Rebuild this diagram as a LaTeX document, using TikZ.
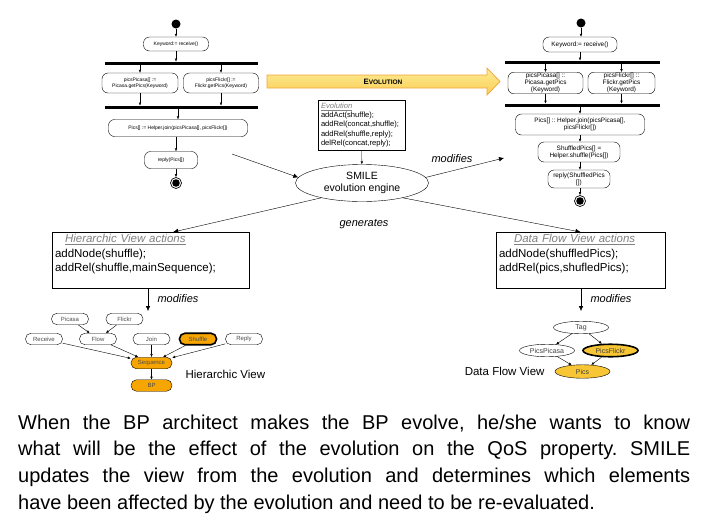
\documentclass[tikz,border=0pt]{standalone}
\usepackage{fontspec}
\setmainfont{Liberation Sans}
\usetikzlibrary{arrows.meta,shapes.geometric}
\definecolor{hvorange}{HTML}{F7A500}
\definecolor{dfyellow}{HTML}{F8C634}
\definecolor{evolight}{HTML}{FDEB95}
\definecolor{evofill}{HTML}{F9CF55}
\definecolor{evoedge}{HTML}{F2A33A}
\frenchspacing

\begin{document}
\begin{tikzpicture}[x=1pt,y=-1pt,
  act/.style={draw,rounded corners=6pt,align=center,inner sep=1pt,font=\fontsize{5}{5.8}\selectfont},
  bigact/.style={act,font=\fontsize{6.4}{6.8}\selectfont},
  bar/.style={fill=black,inner sep=0,minimum height=3.5pt},
  startnode/.style={circle,fill=black,inner sep=0,minimum size=9pt},
  endnode/.style={circle,draw,line width=0.7pt,inner sep=0,minimum size=11pt,
    path picture={\fill (path picture bounding box.center) circle (3.8pt);}},
  af/.style={-{Latex[length=3pt,width=2.6pt]}},
  ar/.style={-{Latex[length=5pt,width=4.5pt]}},
  actions/.style={draw,align=left,anchor=north,inner xsep=3pt,inner ysep=2pt,font=\fontsize{11.5}{14.5}\selectfont},
  lbl/.style={font=\fontsize{11}{12}\selectfont\itshape},
  hv/.style={draw,rounded corners=5.5pt,minimum width=37pt,minimum height=11.5pt,inner sep=0,
    font=\fontsize{6}{6}\selectfont,text=black!70},
  df/.style={ellipse,draw,minimum width=55pt,minimum height=12.5pt,inner sep=0,
    font=\fontsize{7}{7}\selectfont,text=black!75},
  sel/.style={line width=1.6pt}]
\useasboundingbox (0,0) rectangle (712,517);

\node[startnode] (start1) at (176,24) {};
\node[act,minimum width=65pt,minimum height=14pt] (kw1) at (176,44) {Keyword:= receive()};
\node[bar,minimum width=153pt] (fork1) at (181.5,63.5) {};
\node[act,minimum width=76pt,minimum height=20pt] (pp1) at (140,83) {picsPicasa[] :=\\Picasa.getPics(Keyword)};
\node[act,minimum width=75pt,minimum height=20pt] (pf1) at (221,83) {picsFlickr[] :=\\Flickr.getPics(Keyword)};
\node[bar,minimum width=153pt] (join1) at (181.5,107.5) {};
\node[act,minimum width=139pt,minimum height=17pt] (pics1) at (178,128) {Pics[] := Helper.join(picsPicasa[], picsFlickr[])};
\node[act,minimum width=53pt,minimum height=17pt] (rep1) at (171,160) {reply(Pics[])};
\node[endnode] (end1) at (176,183) {};
\draw[af] (start1) -- (kw1);
\draw[af] (kw1) -- (kw1 |- fork1.north);
\foreach \n in {pp1,pf1}{
  \draw[af] (\n |- fork1.south) -- (\n);
  \draw[af] (\n) -- (\n |- join1.north);
}
\draw[af] (pics1 |- join1.south) -- (pics1);
\draw[af] (pics1.south -| end1) -- (rep1.north -| end1);
\draw[af] (rep1.south -| end1) -- (end1);

\node[startnode] (start2) at (581,23) {};
\node[bigact,minimum width=74pt,minimum height=15pt] (kw2) at (580,44.5) {Keyword:= receive()};
\node[bar,minimum width=155pt] (fork2) at (582.5,62.5) {};
\node[bigact,minimum width=75pt,minimum height=20pt] (pp2) at (545.5,83) {picsPicasa[] ::\\Picasa.getPics\\(Keyword)};
\node[bigact,minimum width=67pt,minimum height=20pt] (pf2) at (621.5,83) {picsFlickr[] ::\\Flickr.getPics\\(Keyword)};
\node[bar,minimum width=155pt] (join2) at (582.5,105.5) {};
\node[bigact,minimum width=129pt,minimum height=21pt] (pics2) at (580,124.5) {Pics[] :: Helper.join(picsPicasa[],\\picsFlickr[])};
\node[bigact,minimum width=82pt,minimum height=20pt] (shuf2) at (579,152) {ShuffledPics[] =\\Helper.shuffle(Pics[])};
\node[bigact,minimum width=62pt,minimum height=18pt] (rep2) at (579,179) {reply(ShuffledPics\\{[]})};
\node[endnode] (end2) at (580,201) {};
\draw[af] (start2) -- (start2 |- kw2.north);
\draw[af] (kw2) -- (kw2 |- fork2.north);
\foreach \n in {pp2,pf2}{
  \draw[af] (\n |- fork2.south) -- (\n);
  \draw[af] (\n) -- (\n |- join2.north);
}
\draw[af] (pics2 |- join2.south) -- (pics2);
\draw[af] (pics2.south -| end2) -- (shuf2.north -| end2);
\draw[af] (shuf2.south -| end2) -- (rep2.north -| end2);
\draw[af] (rep2.south -| end2) -- (end2);

\draw[evoedge,line width=0.7pt,top color=evolight,bottom color=evofill]
  (267,75) -- (487,75) -- (487,68) -- (500,81.5) -- (487,95) -- (487,88) -- (267,88) -- cycle;
\node[font=\bfseries\fontsize{6.5}{7}\selectfont] (evolabel) at (383,81.5) {{\fontsize{7.8}{8}\selectfont E}VOLUTION};

\node[draw,align=left,text width=81pt,inner sep=3pt,font=\fontsize{7.6}{9.2}\selectfont] (evobox) at (361.5,125)
  {{\color{gray}\underline{\textit{Evolution}}}\\addAct(shuffle);\\addRel(concat,shuffle);\\addRel(shuffle,reply);\\delRel(concat,reply);};
\node[ellipse,draw,minimum width=133pt,minimum height=37pt,inner sep=0,align=center,font=\fontsize{10.5}{12.5}\selectfont] (smile) at (362,183)
  {SMILE\\evolution engine};
\draw[af] (evobox) -- (smile);
\coordinate (fromleft) at (232,154);
\coordinate (toright) at (504,158);
\draw[ar] (fromleft) -- (smile.175);
\draw[ar] (smile.5) -- (toright);
\node[lbl] (modlbl) at (452,159) {modifies};

\node[actions,text width=191pt] (hbox) at (150.5,232)
  {\hspace*{10pt}{\color{gray}\underline{\textit{Hierarchic View actions}}}\\addNode(shuffle);\\addRel(shuffle,mainSequence);\\\mbox{}};
\node[actions,text width=163pt] (dbox) at (580.5,232)
  {\hspace*{15pt}{\color{gray}\underline{\textit{Data Flow View actions}}}\\addNode(shuffledPics);\\addRel(pics,shufledPics);\\\mbox{}};
\draw[ar] (smile.200) -- (hbox.51);
\draw[ar] (smile.340) -- (dbox.north);
\node[lbl] (genlbl) at (364,224) {generates};

\coordinate (hvtop) at (148,311);
\coordinate (dftop) at (581,311);
\draw[ar] (hbox.south -| hvtop) -- (hvtop);
\draw[ar] (dbox.south -| dftop) -- (dftop);
\node[lbl,anchor=west] (hvmod) at (154,299) {modifies};
\node[lbl,anchor=west] (dfmod) at (587,299) {modifies};

\node[hv] (picasa) at (70,319) {Picasa};
\node[hv] (flickr) at (124.5,319) {Flickr};
\node[hv] (receive) at (44,339) {Receive};
\node[hv] (flow) at (98,339) {Flow};
\node[hv] (join) at (151.5,339) {Join};
\node[hv,fill=hvorange,sel] (shuffle) at (198,339) {Shuffle};
\node[hv] (reply) at (244,339) {Reply};
\node[hv,fill=hvorange,minimum width=41pt] (sequence) at (151.5,363) {Sequence};
\node[hv,fill=hvorange,minimum width=41pt] (bp) at (151.5,385.5) {BP};
\node[anchor=west,font=\fontsize{11.5}{12}\selectfont] (hvname) at (182,374) {Hierarchic View};
\foreach \n in {picasa,flickr} \draw[af] (\n) -- (flow);
\foreach \n in {receive,flow,join,shuffle,reply} \draw[af] (\n) -- (sequence);
\draw[af] (sequence) -- (bp);

\node[df] (tag) at (581,327.5) {Tag};
\node[df] (picspicasa) at (547,350.5) {PicsPicasa};
\node[df,fill=dfyellow,sel] (picsflickr) at (610.5,350.5) {PicsFlickr};
\node[df,fill=dfyellow,minimum height=13.5pt] (pics) at (582.5,371.5) {Pics};
\node[anchor=east,font=\fontsize{11.5}{12}\selectfont] (dfname) at (548,371.5) {Data Flow View};
\foreach \n in {picspicasa,picsflickr}{
  \draw[af] (tag) -- (\n);
  \draw[af] (\n) -- (pics);
}

\node[anchor=north west,text width=672pt,align=justify,inner sep=0,font=\fontsize{20}{26.7}\selectfont] (caption) at (18,414.5)
  {When the BP architect makes the BP evolve, he/she wants to know\linebreak
   what will be the effect of the evolution on the QoS property. SMILE\linebreak
   updates the view from the evolution and determines which elements\linebreak
   have been affected by the evolution and need to be re-evaluated.};
\end{tikzpicture}
\end{document}
